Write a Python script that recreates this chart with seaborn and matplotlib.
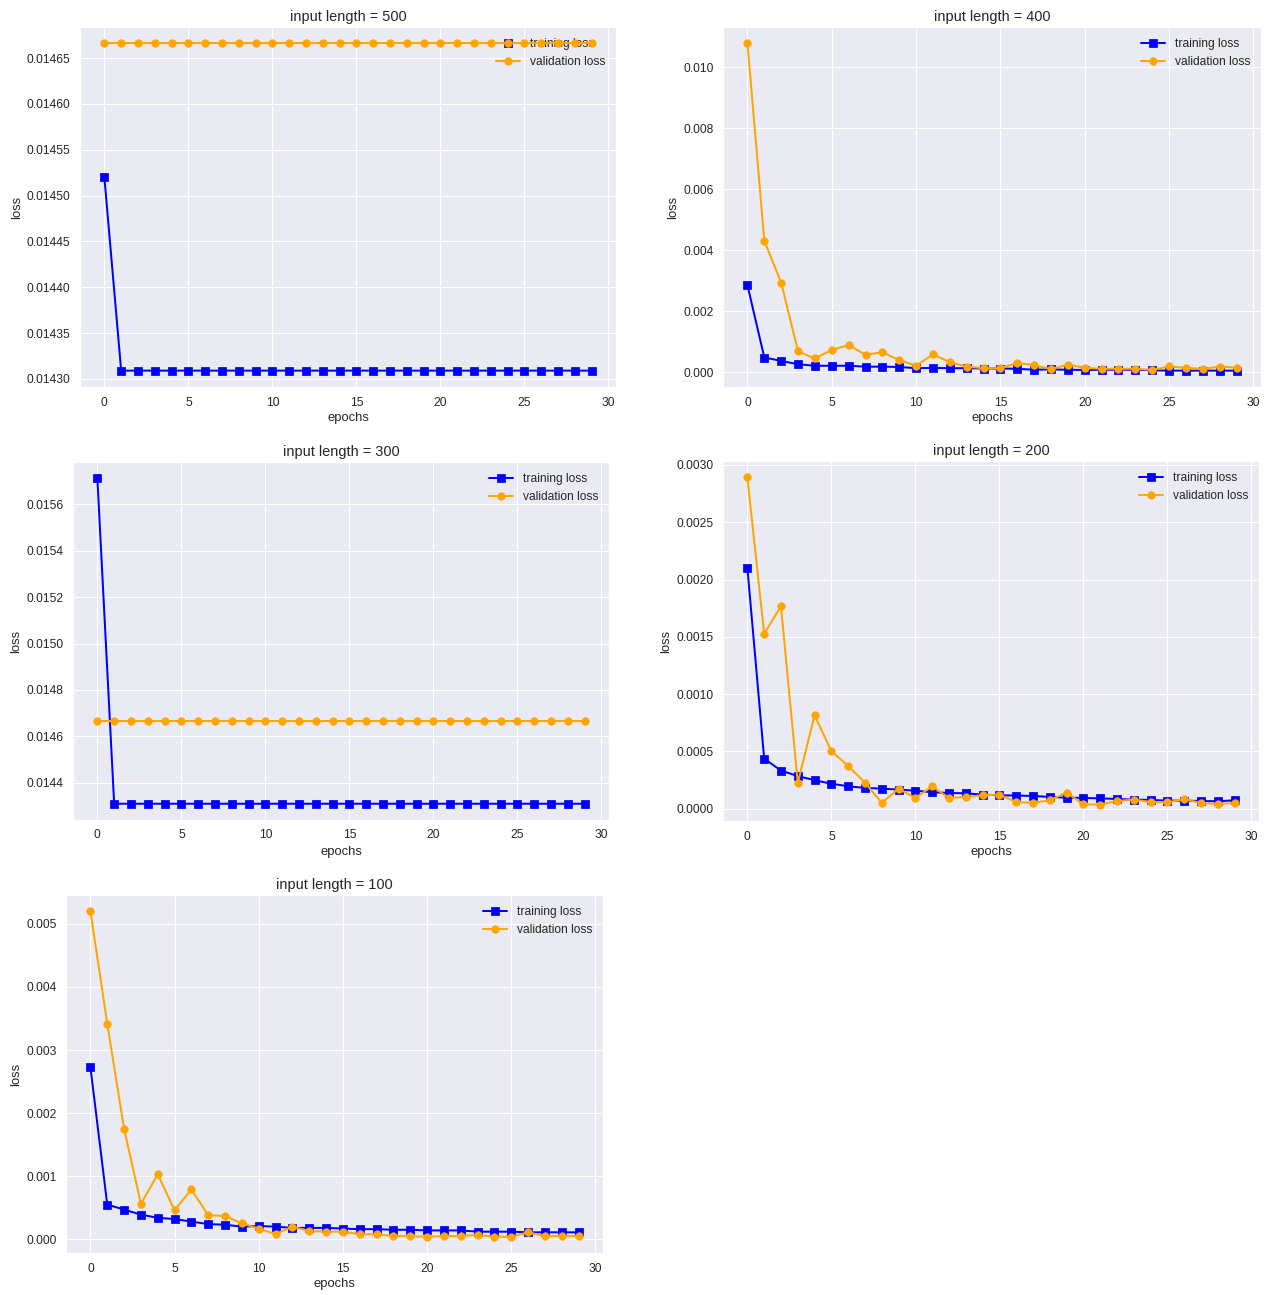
import numpy as np
import matplotlib
matplotlib.use("Agg")
import matplotlib.pyplot as plt
import seaborn as sns

# epochs shared by every run
epochs = list(range(30))

input_lengths = [500, 400, 300, 200, 100]

# input length = 500
train_500 = [0.01452] + [0.014309] * 29
val_500 = [0.014666] * 30

# input length = 400
train_400 = [0.00286, 0.00049, 0.00038, 0.00027, 0.00022, 0.00022, 0.00022, 0.00019, 0.00019, 0.00018,
             0.00014, 0.00015, 0.00014, 0.00014, 0.00013, 0.00013, 0.00012, 0.00009, 0.00010, 0.00009,
             0.00008, 0.00009, 0.00009, 0.00009, 0.00007, 0.00006, 0.00006, 0.00006, 0.00006, 0.00006]
val_400 = [0.01079, 0.00432, 0.00294, 0.00069, 0.00046, 0.00074, 0.00090, 0.00058, 0.00066, 0.00041,
           0.00022, 0.00059, 0.00034, 0.00019, 0.00014, 0.00014, 0.00031, 0.00024, 0.00011, 0.00026,
           0.00015, 0.00012, 0.00012, 0.00012, 0.00008, 0.00020, 0.00015, 0.00012, 0.00019, 0.00016]

# input length = 300
train_300 = [0.015712] + [0.014310] * 29
val_300 = [0.014667] * 30

# input length = 200
train_200 = [0.002103, 0.000437, 0.000332, 0.000285, 0.000248, 0.000218, 0.000195, 0.000181, 0.000175, 0.000166,
             0.000157, 0.000143, 0.000137, 0.000134, 0.000122, 0.000117, 0.000114, 0.000111, 0.000102, 0.000096,
             0.000093, 0.000090, 0.000084, 0.000079, 0.000076, 0.000070, 0.000070, 0.000067, 0.000064, 0.000073]
val_200 = [0.002892, 0.001526, 0.001768, 0.000224, 0.000816, 0.000501, 0.000373, 0.000227, 0.000050, 0.000175,
           0.000093, 0.000195, 0.000093, 0.000102, 0.000117, 0.000122, 0.000058, 0.000050, 0.000073, 0.000140,
           0.000038, 0.000035, 0.000067, 0.000079, 0.000058, 0.000055, 0.000082, 0.000050, 0.000041, 0.000050]

# input length = 100
train_100 = [0.00273, 0.00055, 0.00047, 0.00039, 0.00034, 0.00032, 0.00028, 0.00024, 0.00023, 0.00020,
             0.00021, 0.00020, 0.00018, 0.00018, 0.00018, 0.00017, 0.00016, 0.00016, 0.00015, 0.00015,
             0.00014, 0.00014, 0.00014, 0.00012, 0.00012, 0.00012, 0.00011, 0.00011, 0.00011, 0.00011]
val_100 = [0.00520, 0.00342, 0.00175, 0.00056, 0.00103, 0.00046, 0.00079, 0.00038, 0.00037, 0.00025,
           0.00017, 0.00008, 0.00020, 0.00013, 0.00012, 0.00012, 0.00008, 0.00008, 0.00005, 0.00005,
           0.00004, 0.00005, 0.00005, 0.00007, 0.00004, 0.00004, 0.00011, 0.00005, 0.00005, 0.00005]

train_runs = [train_500, train_400, train_300, train_200, train_100]
val_runs = [val_500, val_400, val_300, val_200, val_100]

sns.set_theme(style="darkgrid", rc={
    "xtick.labelsize": 12, "ytick.labelsize": 12,
    "axes.labelsize": 13, "axes.titlesize": 14.5,
    "legend.fontsize": 12, "legend.frameon": False,
})
plt.rcParams['font.family'] = ['Liberation Sans', 'DejaVu Sans']

W, H = 1277, 1295
fig = plt.figure(figsize=(W / 72, H / 72), dpi=72)

# axes boxes in pixels: left, bottom edge (from top), width, height
boxes = [(80, 387, 536, 360), (723, 387, 538, 360),
         (73, 820, 536, 358), (723, 821, 536, 360),
         (66, 1253, 537, 358)]

for i, length in enumerate(input_lengths):
    l, b, w, h = boxes[i]
    ax = fig.add_axes([l / W, 1 - b / H, w / W, h / H])
    sns.lineplot(x=epochs, y=train_runs[i], ax=ax, color='blue', marker='s',
                 markersize=7.5, markeredgecolor='blue', linewidth=2, label='training loss')
    sns.lineplot(x=epochs, y=val_runs[i], ax=ax, color='orange', marker='o',
                 markersize=7.5, markeredgecolor='orange', linewidth=2, label='validation loss')
    ax.set_title(f"input length = {length}")
    ax.set_xlabel("epochs")
    ax.set_ylabel("loss")
    ax.set_xticks([0, 5, 10, 15, 20, 25, 30])
    ax.ticklabel_format(axis='y', useOffset=False, style='plain')
    leg = ax.legend(loc='upper right')
    leg.set_zorder(1)

fig.savefig("out.png", dpi=72)
